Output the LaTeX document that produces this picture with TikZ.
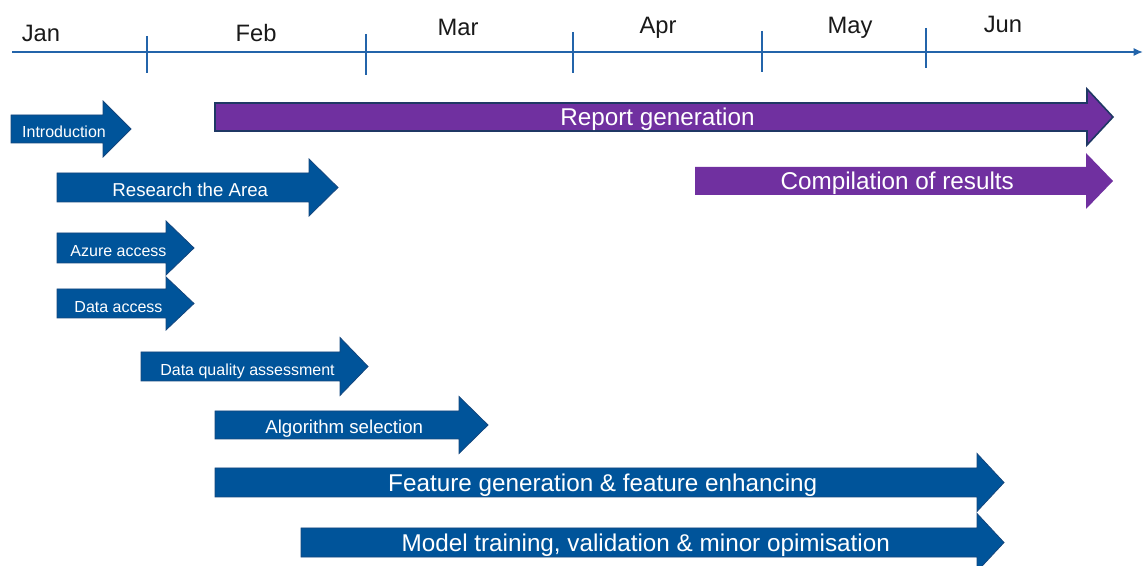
\documentclass[tikz,border=0pt]{standalone}
\usepackage{fontspec}
\setmainfont{Liberation Sans}
\usetikzlibrary{arrows.meta}
\definecolor{barblue}{RGB}{0,84,154}
\definecolor{edgeblue}{RGB}{20,70,125}
\definecolor{axisblue}{RGB}{35,100,170}
\definecolor{barpurple}{RGB}{112,48,160}
\definecolor{navy}{RGB}{31,56,100}
\tikzset{
  bluebar/.style={fill=barblue,draw=edgeblue,line width=0.6pt,line join=miter},
  purplebar/.style={fill=barpurple,draw=navy,line width=1.2pt,line join=miter},
  purplebarplain/.style={fill=barpurple},
  lbl/.style={text=white,inner sep=0pt,text height=0.716em,text depth=0pt,anchor=center,yshift=-2.8pt},
  smalllbl/.style={lbl,font=\fontsize{12}{14}\selectfont},
  midlbl/.style={lbl,font=\fontsize{14}{16}\selectfont},
  biglbl/.style={lbl,font=\fontsize{18.2}{20}\selectfont},
  month/.style={inner sep=0pt,text height=0.716em,text depth=0pt,anchor=center,yshift=-3pt,font=\fontsize{17.8}{20}\selectfont,text=black!90},
  axisline/.style={draw=axisblue,line width=1.2pt},
  tickline/.style={draw=axisblue,line width=1.2pt}
}
\newcommand{\hx}{14}
% #1 path style, #2 name, #3 x start, #4 head base x, #5 tip x, #6 shaft top y, #7 shaft bottom y, #8 label style, #9 text
\newcommand{\tlarrow}[9]{%
  \path[#1] (#3,#6) -- (#4,#6) -- ({#4},{#6-\hx}) -- ({#5},{(#6+#7)/2}) -- ({#4},{#7+\hx}) -- (#4,#7) -- (#3,#7) -- cycle;
  \node[#8] (#2) at ({(#3+(#4+#5)/2)/2},{(#6+#7)/2}) {#9};%
}
\begin{document}
\begin{tikzpicture}[x=0.75pt,y=-0.75pt]
\useasboundingbox (0,0) rectangle (1143,566);
% axis
\coordinate (axL) at (12,52);
\coordinate (axR) at (1143,52);
\draw[axisline,-{Latex[length=7pt,width=6pt]}] (axL) -- (axR);
\foreach \x/\a/\b [count=\i] in {147/36/73, 366/34/75, 573/32/73, 762/31/72, 926/28/68}{
  \coordinate (t\i a) at (\x,\a);
  \coordinate (t\i b) at (\x,\b);
  \draw[tickline] (t\i a) -- (t\i b);
}
% months
\node[month] (jan) at (41,33) {Jan};
\node[month] (feb) at (256,33) {Feb};
\node[month] (mar) at (458,27) {Mar};
\node[month] (apr) at (658,25) {Apr};
\node[month] (may) at (850,25) {May};
\node[month] (jun) at (1003,24) {Jun};
% bars
\tlarrow{bluebar}{intro}{11}{103}{131}{115}{143}{smalllbl}{Introduction}
\tlarrow{purplebar}{report}{215}{1087}{1113}{103}{131}{biglbl}{Report generation}
\tlarrow{bluebar}{research}{57}{309}{338}{173}{202}{midlbl}{Research the Area}
\tlarrow{purplebarplain}{compile}{695}{1086}{1113}{167}{195}{biglbl}{Compilation of results}
\renewcommand{\hx}{12}
\tlarrow{bluebar}{azure}{57}{166}{194}{233}{263}{smalllbl}{Azure access}
\tlarrow{bluebar}{data}{57}{166}{194}{289}{318}{smalllbl}{Data access}
\renewcommand{\hx}{14.5}
\tlarrow{bluebar}{dqa}{141}{340}{368}{352}{381}{smalllbl}{Data quality assessment}
\tlarrow{bluebar}{algo}{215}{459}{488}{411}{439}{midlbl}{Algorithm selection}
\tlarrow{bluebar}{feat}{215}{977}{1004}{468}{497}{biglbl}{Feature generation \& feature enhancing}
\tlarrow{bluebar}{model}{301}{977}{1004}{528}{557}{biglbl}{Model training, validation \& minor opimisation}
\end{tikzpicture}
\end{document}
